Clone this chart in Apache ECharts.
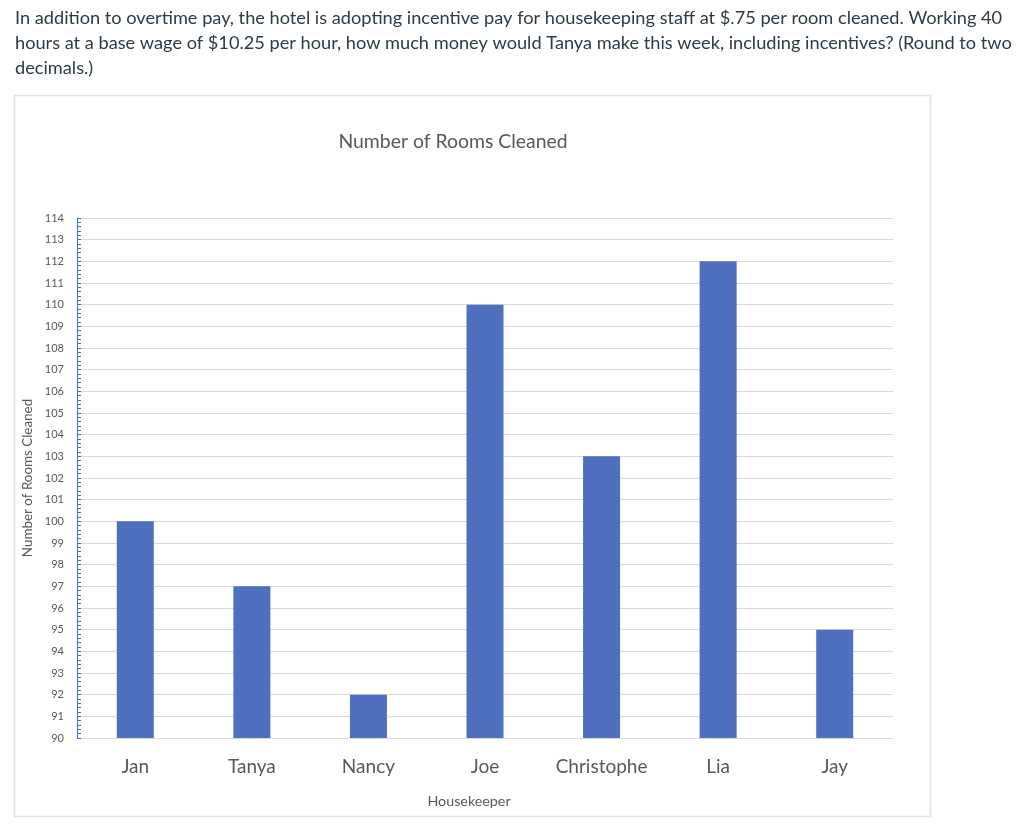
<!DOCTYPE html>
<html><head><meta charset="utf-8">
<script src="https://cdn.jsdelivr.net/npm/echarts@6/dist/echarts.min.js"></script>
<style>html,body{margin:0;padding:0;background:#fff;}#c{width:1024px;height:834px;}</style>
</head><body><div id="c"></div>
<script>
const questionLines = [
  "In addition to overtime pay, the hotel is adopting incentive pay for housekeeping staff at $.75 per room cleaned. Working 40",
  "hours at a base wage of $10.25 per hour, how much money would Tanya make this week, including incentives? (Round to two",
  "decimals.)"
];
const chartTitle = "Number of Rooms Cleaned";
const categories = ["Jan", "Tanya", "Nancy", "Joe", "Christophe", "Lia", "Jay"];
const roomsCleaned = [100, 97, 92, 110, 103, 112, 95];
const xAxisName = "Housekeeper";
const yAxisName = "Number of Rooms Cleaned";
const yMin = 90, yMax = 114, yStep = 1;

const chart = echarts.init(document.getElementById('c'));
const graphics = [
  {type:'rect', shape:{x:14.5, y:95.5, width:916, height:721}, style:{fill:'#fff', stroke:'#e0e0e0', lineWidth:1.5}, z:-10},
  {type:'text', x:453, y:142, style:{text:chartTitle, font:'19.4px Lato', fill:'#595959', align:'center', verticalAlign:'middle'}},
  {type:'text', x:469, y:801, style:{text:xAxisName, font:'14.3px Lato', fill:'#595959', align:'center', verticalAlign:'middle'}}
];
questionLines.forEach((t,i)=>{
  graphics.push({type:'text', x:15, y:18 + i*25, style:{text:t, font:'18.2px Lato', fill:'#2d3b45', verticalAlign:'middle'}});
});
chart.setOption({
  animation:false,
  graphic: graphics,
  grid:{left:77, right:131, top:218, bottom:96},
  xAxis:{type:'category', data:categories,
    axisLine:{lineStyle:{color:'#d9d9d9'}}, axisTick:{show:false},
    axisLabel:{interval:0, hideOverlap:false, fontFamily:'Lato', fontSize:19, color:'#595959', margin:19}},
  yAxis:{type:'value', min:yMin, max:yMax, interval:yStep, name:yAxisName, nameLocation:'middle', nameGap:40,
    nameTextStyle:{fontFamily:'Lato', fontSize:13.4, color:'#595959'},
    axisLine:{show:true, lineStyle:{color:'#4472c4'}}, axisTick:{show:true, inside:true, length:4, lineStyle:{color:'#4472c4'}},
    minorTick:{show:true, splitNumber:5, length:4, lineStyle:{color:'#4472c4'}},
    axisLabel:{fontFamily:'Lato', fontSize:11, color:'#595959', margin:13},
    splitLine:{lineStyle:{color:'#d9d9d9'}}},
  series:[{type:'bar', data:roomsCleaned, barWidth:37, itemStyle:{color:'#4e70be'}}]
});
</script></body></html>
